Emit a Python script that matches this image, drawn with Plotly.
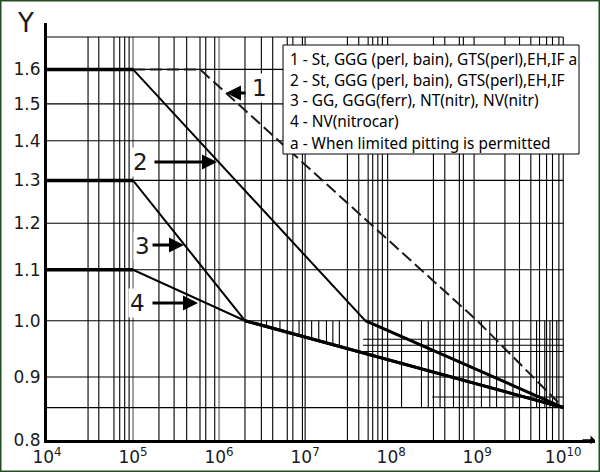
import numpy as np
import plotly.graph_objects as go

# ---- data ----
n_curve1 = [1e5, 6e5, 1e9, 1e10]
y_curve1 = [1.6, 1.6, 1.0, 0.85]
n_curve2 = [1e4, 1e5, 5e7, 1e10]
y_curve2 = [1.6, 1.6, 1.0, 0.85]
n_curve3 = [1e4, 1e5, 2e6, 1e10]
y_curve3 = [1.3, 1.3, 1.0, 0.85]
n_curve4 = [1e4, 1e5, 2e6, 1e10]
y_curve4 = [1.1, 1.1, 1.0, 0.85]

x_ticks = [1e4, 1e5, 1e6, 1e7, 1e8, 1e9, 1e10]
x_ticktext = ["10<sup>4</sup>", "10<sup>5</sup>", "10<sup>6</sup>", "10<sup>7</sup>",
              "10<sup>8</sup>", "10<sup>9</sup>", "10<sup>10</sup>"]
y_ticks = [0.8, 0.9, 1.0, 1.1, 1.2, 1.3, 1.4, 1.5, 1.6]
y_ticktext = ["0.8", "0.9", "1.0", "1.1", "1.2", "1.3", "1.4", "1.5", "1.6"]

# hand drawn grid of the original
grid_y = [0.85, 0.9, 1.0, 1.1, 1.2, 1.3, 1.4, 1.5, 1.6, 1.7]
grid_x = [3e4, 4e4, 6e4, 7e4, 8e4, 9e4,
          2e5, 3e5, 4.2e5, 6e5, 7e5, 8.9e5,
          2e6, 3.1e6, 4.2e6, 6.2e6, 7.2e6, 9.3e6, 1e7,
          3.1e7, 4.2e7, 5.4e7, 6.1e7, 7e7, 7.9e7, 9.1e7,
          3.1e8, 4.2e8, 6.2e8, 6.9e8, 9.2e8,
          2.1e9, 3.1e9, 4.2e9, 5.3e9, 6.4e9, 7.5e9, 8.9e9, 1e10]
grid_x_gray = [1e5, 1e6]
grid_x_short = [3.56e6, 5.1e6, 8.5e6, 1.19e7, 1.44e7, 1.77e7, 2.1e7, 2.5e7]
grid_x_band = [1.32e8, 2.25e8, 2.7e8, 3.7e8, 5.3e8, 7.85e8, 1.12e9, 1.4e9,
               1.68e9, 2.6e9, 4.9e9, 6.1e9, 7e9, 8.4e9]
grid_y_band = [0.944, 0.955, 0.966]
grid_y_band2 = [0.867]

legend_lines = [
    "1 - St, GGG (perl, bain), GTS(perl),EH,IF a",
    "2 - St, GGG (perl, bain), GTS(perl),EH,IF",
    "3 - GG, GGG(ferr), NT(nitr), NV(nitr)",
    "4 - NV(nitrocar)",
    "a - When limited pitting is permitted",
]
curve_labels = ["1", "2", "3", "4"]

# ---- layout geometry (pixels) ----
W, H = 600, 472
ML, MR, MT, MB = 47, 5, 23, 32
PW, PH = W - ML - MR, H - MT - MB
X0, X1 = 1e4, 10 ** 10.369
Y0, Y1 = 0.8, 1.745


def px_x(px):
    return (px - ML) / PW


def px_y(py):
    return (H - MB - py) / PH


def seg(xs, ys):
    # join segments with None gaps for one trace
    out_x, out_y = [], []
    for a, b in zip(xs, ys):
        out_x += list(a) + [None]
        out_y += list(b) + [None]
    return out_x, out_y


def curve_at(n, ns, ys):
    return float(np.exp(np.interp(np.log(n), np.log(ns), np.log(ys))))


fig = go.Figure()

def add_lines(xs, ys, color="black", width=1.1):
    gx, gy = seg(xs, ys)
    fig.add_trace(go.Scatter(x=gx, y=gy, mode="lines", hoverinfo="skip",
                             line=dict(color=color, width=width), showlegend=False))

gmin, gmax = min(grid_y), max(grid_y)
add_lines([[x, x] for x in grid_x], [[Y0, gmax]] * len(grid_x))
add_lines([[x, x] for x in grid_x_gray], [[Y0, gmax]] * len(grid_x_gray), "#a0a0a0", 2)
add_lines([[x, x] for x in grid_x_short],
          [[curve_at(x, n_curve4, y_curve4), 1.0] for x in grid_x_short])
add_lines([[x, x] for x in grid_x_band], [[gmin, 1.0]] * len(grid_x_band))
add_lines([[X0, 1e10]] * len(grid_y), [[y, y] for y in grid_y])
add_lines([[4.7e7, 1e10]] * len(grid_y_band), [[y, y] for y in grid_y_band])
add_lines([[3e8, 1e10]] * len(grid_y_band2), [[y, y] for y in grid_y_band2])

# curves: thin sloped parts, thick plateaus and tails
fig.add_trace(go.Scatter(x=n_curve1, y=y_curve1, mode="lines", hoverinfo="skip",
                         line=dict(color="#1a1a1a", width=2, dash="12px,5px"), showlegend=False))
for ns, ys in [(n_curve2, y_curve2), (n_curve3, y_curve3), (n_curve4, y_curve4)]:
    fig.add_trace(go.Scatter(x=ns, y=ys, mode="lines", hoverinfo="skip",
                             line=dict(color="black", width=2), showlegend=False))
    fig.add_trace(go.Scatter(x=ns[:2], y=ys[:2], mode="lines", hoverinfo="skip",
                             line=dict(color="black", width=3.5), showlegend=False))
    fig.add_trace(go.Scatter(x=ns[-2:], y=ys[-2:], mode="lines", hoverinfo="skip",
                             line=dict(color="black", width=3), showlegend=False))

big = dict(family="DejaVu Sans", size=23, color="#1a1a1a")
# label text position (px) and arrow head / tail (px)
label_pos = [(259, 88), (140, 162), (142, 246), (137, 303)]
arrow_pos = [(226, 93, 247), (217, 162, 153), (184, 245, 151), (198, 303, 151)]
for txt, (lx, ly), (hx, hy, tx) in zip(curve_labels, label_pos, arrow_pos):
    fig.add_annotation(text=txt, xref="paper", yref="paper", x=px_x(lx), y=px_y(ly),
                       xanchor="center", yanchor="middle",
                       showarrow=False, font=big, bgcolor="white", borderpad=1)
    fig.add_annotation(text="", xref="paper", yref="paper", x=px_x(hx), y=px_y(hy),
                       ax=tx - hx, ay=0, showarrow=True, arrowhead=2, arrowsize=1,
                       arrowwidth=3, arrowcolor="black")

# legend box
fig.add_shape(type="rect", xref="paper", yref="paper", x0=px_x(283), x1=px_x(579),
              y0=px_y(154), y1=px_y(45), line=dict(color="black", width=1),
              fillcolor="white", layer="above")
for i, t in enumerate(legend_lines):
    fig.add_annotation(text=t, xref="paper", yref="paper", x=px_x(288), y=px_y(59 + 21 * i),
                       xanchor="left", yanchor="middle", showarrow=False,
                       font=dict(family="Noto Sans", size=15.4, color="black"))

# axis label and arrow on x axis
fig.add_annotation(text="Y", xref="paper", yref="paper", x=px_x(25), y=px_y(23),
                   xanchor="center", yanchor="middle",
                   showarrow=False, font=dict(family="DejaVu Sans", size=26, color="#1a1a1a"))
fig.add_annotation(text="", xref="paper", yref="paper", x=1, y=0, ax=-14, ay=0,
                   showarrow=True, arrowhead=1, arrowsize=1, arrowwidth=1.5, arrowcolor="black")

# page frame
fig.add_shape(type="rect", xref="paper", yref="paper", x0=-ML / PW, x1=1 + MR / PW,
              y0=-MB / PH, y1=1 + MT / PH, line=dict(color="#234d23", width=3))

tick_font = dict(family="DejaVu Sans", size=17, color="#1a1a1a")
fig.update_xaxes(type="log", range=[np.log10(X0), np.log10(X1)], tickvals=x_ticks,
                 ticktext=x_ticktext, showgrid=False, zeroline=False, showline=True,
                 linecolor="black", linewidth=3, ticks="", tickfont=tick_font)
fig.update_yaxes(type="log", range=[np.log10(Y0), np.log10(Y1)], tickvals=y_ticks,
                 ticktext=y_ticktext, showgrid=False, zeroline=False, showline=True,
                 linecolor="black", linewidth=3, ticks="", tickfont=tick_font)
fig.update_layout(width=W, height=H, margin=dict(l=ML, r=MR, t=MT, b=MB),
                  paper_bgcolor="white", plot_bgcolor="white")

fig.write_html("out.html", config={"displayModeBar": False},
               post_script="document.body.style.margin = '0';")
